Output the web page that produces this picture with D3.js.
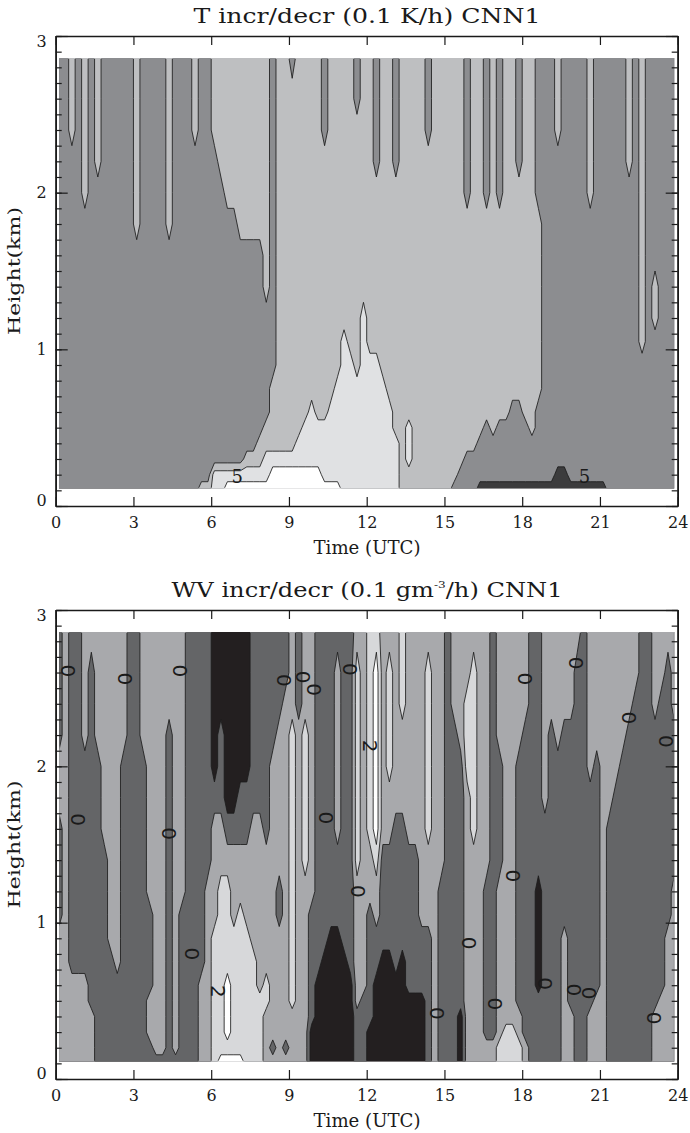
<!DOCTYPE html>
<html>
<head>
<meta charset="utf-8">
<script src="https://d3js.org/d3.v7.min.js"></script>
<style>
  body { margin: 0; background: #fff; }
  text { font-family: "DejaVu Serif", serif; fill: #1a1a1a; }
</style>
</head>
<body>
<svg id="chart" width="690" height="1133"></svg>
<script>
// grid rows (km), bottom to top
var heights = [0.11, 0.2, 0.3, 0.4, 0.5, 0.6, 0.75, 0.9, 1.05, 1.2, 1.4, 1.6, 1.8, 2.0, 2.2, 2.4, 2.6, 2.86];
// grid columns: four per hour, on the quarter-hour centres
var firstTime = 0.125, timeStep = 0.25, nCols = 96;

var timeTicks = [0, 3, 6, 9, 12, 15, 18, 21, 24];
var heightTicks = [0, 1, 2, 3];

// contour class codes: 1 strongest decrease .. 9 strongest increase
var levels = [2, 4, 6, 8];

// T incr/decr: one string per row, top row (2.86 km) first, a group of four per hour
var tempRows = [
  "3353 5353 3333 5333 3533 3533 5555 5555 5355 3555 5355 5535 5355 3555 5355 5553 5535 3553 5533 3533 3353 3333 5353 3333",
  "3353 5353 3333 5333 3533 3533 5555 5555 5355 5555 5355 5535 5355 3555 5355 5553 5535 3553 5533 3533 3353 3333 5353 3333",
  "3353 5353 3333 5333 3533 3533 5555 5555 5355 5555 5355 5555 5355 3555 5355 5553 5535 3553 5533 3533 3353 3333 5353 3333",
  "3333 5353 3333 5333 3533 3333 3555 5555 5355 5555 5555 5555 5355 3555 5555 5553 5535 3553 5533 3333 3353 3333 5353 3333",
  "3333 5333 3333 5333 3533 3333 3355 5555 5355 5555 5555 5555 5555 5555 5555 5553 5535 3555 5533 3333 3353 3333 3353 3333",
  "3333 3333 3333 5333 3533 3333 3333 5555 5355 5555 5555 5555 5555 5555 5555 5555 5555 5555 5553 3333 3333 3333 3353 3333",
  "3333 3333 3333 3333 3333 3333 3333 3333 5355 5555 5555 5555 5555 5555 5555 5555 5555 5555 5553 3333 3333 3333 3353 3333",
  "3333 3333 3333 3333 3333 3333 3333 3333 5355 5555 5555 5555 5555 5555 5555 5555 5555 5555 5553 3333 3333 3333 3353 5333",
  "3333 3333 3333 3333 3333 3333 3333 3333 3355 5555 5555 5557 5555 5555 5555 5555 5555 5555 5553 3333 3333 3333 3353 5333",
  "3333 3333 3333 3333 3333 3333 3333 3333 3355 5555 5555 7557 5555 5555 5555 5555 5555 5555 5553 3333 3333 3333 3353 3333",
  "3333 3333 3333 3333 3333 3333 3333 3333 3355 5555 5555 7757 7755 5555 5555 5555 5555 5555 5553 3333 3333 3333 3333 3333",
  "3333 3333 3333 3333 3333 3333 3333 3333 3555 5555 5557 7777 7775 5555 5555 5555 5555 5555 5553 3333 3333 3333 3333 3333",
  "3333 3333 3333 3333 3333 3333 3333 3333 3555 5557 5577 7777 7777 5555 5555 5555 5555 5533 5533 3333 3333 3333 3333 3333",
  "3333 3333 3333 3333 3333 3333 3333 3333 5555 5577 7777 7777 7777 5575 5555 5555 5535 3333 3533 3333 3333 3333 3333 3333",
  "3333 3333 3333 3333 3333 3333 3333 3335 5555 5777 7777 7777 7777 7575 5555 5555 5333 3333 3333 3333 3333 3333 3333 3333",
  "3333 3333 3333 3333 3333 3333 3333 3555 7777 7777 7777 7777 7777 7575 5555 5553 3333 3333 3333 3333 3333 3333 3333 3333",
  "3333 3333 3333 3333 3333 3333 7777 7777 7999 9999 9777 7777 7777 7555 5555 5533 3333 3333 3333 3113 3333 3333 3333 3333",
  "3333 3333 3333 3333 3333 3355 7799 9999 9999 9999 9999 7777 7777 7555 5555 5333 3111 1111 1111 1111 1111 1333 3333 3333"
];

// WV incr/decr: one string per column, top (2.86 km) to bottom, four columns per hour
var wvColumns = [
  "333355333355555555", "555555555555555555", "333333333333555555", "333333333333555555", // 0 h
  "555533333333555555", "533333333333335555", "555533333333333333", "555555533333333333", // 1 h
  "555555555553333333", "555555555555333333", "555533333333333333", "333333333333333333", // 2 h
  "333333333333333333", "555533333333333333", "555555555333355533", "555555555555555553", // 3 h
  "555555555555555553", "555333333333333333", "555555555555555553", "555555555333333333", // 4 h
  "333333333333333333", "333333333333333333", "333333333333555555", "333333335555555555", // 5 h
  "111113555577777777", "111333557777777779", "111111357777999979", "111111355577777779", // 6 h
  "111113355777777779", "111113355577777777", "333333555557777777", "333333555555577777", // 7 h
  "333333355555775555", "333355555555555535", "333555553355555555", "335555555555555535", // 8 h
  "555777777777775555", "333555555555555555", "555777775555555555", "555555555333333111", // 9 h
  "333333333333111111", "333333333331111111", "333333333311111111", "355555533311111111", // 10 h
  "333333333331111111", "333333333333111111", "577777775555553333", "555555555555533333", // 11 h
  "777777755333333111", "799999975533111111", "555555533331111111", "577775533331111111", // 12 h
  "555555333333111111", "777555333331111111", "555555533333311111", "555555533333311111", // 13 h
  "555555555533311111", "577777755533333333", "555555555555555555", "555555553333333333", // 14 h
  "333333333333333333", "555333333333333333", "555533333333331111", "557775555555555555", // 15 h
  "577777755555555555", "555555555555555555", "555555553333333355", "333333333333333355", // 16 h
  "555533335555555577", "555555555555555777", "555555555555555777", "555533333333335577", // 17 h
  "555333333333333355", "333333333333333333", "333333331111133333", "555555333333333333", // 18 h
  "555333333333333333", "555533333333333333", "555333333355555555", "555333333333335555", // 19 h
  "533333333333333333", "333333333333333333", "555553333333335555", "555533333333355555", // 20 h
  "555555555555555555", "555555333333333333", "555553333333333333", "555533333333333333", // 21 h
  "555333333333333333", "553333333333333333", "333333333333333333", "333333333333333333", // 22 h
  "555333333333335555", "553333333333355555", "533333333355555555", "555333335555555555"  // 23 h
];

var tempColors = ["#3c3c3d", "#8c8d90", "#bebfc1", "#e0e1e3", "#ffffff"];
var wvColors = ["#231f20", "#646567", "#a8a9ac", "#d7d8da", "#ffffff"];

var tempLabels = [
  {t: 7.0, h: 0.19, text: "5"},
  {t: 20.4, h: 0.19, text: "5"}
];
var wvLabels = [
  {t: 0.49, h: 2.61, text: "0"}, {t: 2.68, h: 2.56, text: "0"}, {t: 4.8, h: 2.61, text: "0"},
  {t: 8.79, h: 2.55, text: "0"}, {t: 9.54, h: 2.57, text: "0"}, {t: 9.95, h: 2.49, text: "0"},
  {t: 11.34, h: 2.62, text: "0"}, {t: 0.87, h: 1.66, text: "0"}, {t: 4.39, h: 1.57, text: "0"},
  {t: 10.44, h: 1.67, text: "0"}, {t: 18.12, h: 2.56, text: "0"}, {t: 20.08, h: 2.66, text: "0"},
  {t: 22.14, h: 2.31, text: "0"}, {t: 23.56, h: 2.16, text: "0"}, {t: 12.11, h: 2.13, text: "2"},
  {t: 11.68, h: 1.2, text: "0"}, {t: 5.25, h: 0.8, text: "0"}, {t: 6.28, h: 0.56, text: "2"},
  {t: 17.64, h: 1.3, text: "0"}, {t: 15.93, h: 0.87, text: "0"}, {t: 14.71, h: 0.42, text: "0"},
  {t: 16.96, h: 0.48, text: "0"}, {t: 18.89, h: 0.61, text: "0"}, {t: 19.99, h: 0.57, text: "0"},
  {t: 20.57, h: 0.55, text: "0"}, {t: 23.07, h: 0.39, text: "0"}
];

// grids for d3.contours, row 0 = lowest height
function gridFromRows(rows) {
  var r = rows.map(function(s) { return s.replace(/ /g, ""); }).reverse();
  var v = [];
  r.forEach(function(s) { for (var i = 0; i < nCols; i++) v.push(+s[i] || 3); });
  return v;
}
function gridFromColumns(cols) {
  var ny = heights.length, v = [];
  for (var j = 0; j < ny; j++)
    for (var i = 0; i < nCols; i++) v.push(+cols[i][ny - 1 - j] || 3);
  return v;
}

var svg = d3.select("#chart");
svg.append("rect").attr("width", 690).attr("height", 1133).attr("fill", "#fff");
var defs = svg.append("defs");

function panel(cfg) {
  var x = d3.scaleLinear().domain([0, 24]).range([55.7, 677.7]);
  var y = d3.scaleLinear().domain([0, 3]).range([cfg.bottom, cfg.top]);
  var ny = heights.length;
  var colTime = d3.scaleLinear().domain([0, nCols - 1]).range([firstTime, firstTime + (nCols - 1) * timeStep]);
  var rowHeight = d3.scaleLinear().domain(d3.range(ny)).range(heights);

  var x0 = x(colTime(0)), x1 = x(colTime(nCols - 1));
  var y0 = y(heights[ny - 1]), y1 = y(heights[0]);
  defs.append("clipPath").attr("id", cfg.id + "-fill").append("rect")
    .attr("x", x0).attr("y", y0).attr("width", x1 - x0).attr("height", y1 - y0);
  defs.append("clipPath").attr("id", cfg.id + "-line").append("rect")
    .attr("x", x0 + 1).attr("y", y0 + 1).attr("width", x1 - x0 - 2).attr("height", y1 - y0 - 2);

  var toPixels = d3.geoTransform({
    point: function(px, py) {
      var ci = Math.max(0, Math.min(nCols - 1, px - 0.5));
      var ri = Math.max(0, Math.min(ny - 1, py - 0.5));
      this.stream.point(x(colTime(ci)), y(rowHeight(ri)));
    }
  });
  var path = d3.geoPath(toPixels);
  var contours = d3.contours().size([nCols, ny]).thresholds(levels)(cfg.values);

  var fills = svg.append("g").attr("clip-path", "url(#" + cfg.id + "-fill)");
  fills.append("rect").attr("x", x0).attr("y", y0).attr("width", x1 - x0).attr("height", y1 - y0)
    .attr("fill", cfg.colors[0]);
  fills.selectAll("path").data(contours).join("path")
    .attr("d", path).attr("fill", function(d, i) { return cfg.colors[i + 1]; })
    .attr("fill-rule", "evenodd");

  svg.append("g").attr("clip-path", "url(#" + cfg.id + "-line)")
    .selectAll("path").data(contours).join("path")
    .attr("d", path).attr("fill", "none").attr("stroke", "#1c1c1c")
    .attr("stroke-width", 0.85).attr("stroke-linejoin", "miter");

  // contour labels
  svg.append("g").selectAll("text").data(cfg.labels).join("text")
    .attr("transform", function(d) {
      return "translate(" + x(d.t) + "," + y(d.h) + ")" + (cfg.rotateLabels ? " rotate(90)" : "");
    })
    .attr("text-anchor", "middle").attr("dominant-baseline", "central")
    .style("font-family", cfg.rotateLabels ? "'DejaVu Sans', sans-serif" : "'DejaVu Serif', serif")
    .style("font-size", cfg.rotateLabels ? "20px" : "18px")
    .text(function(d) { return d.text; });

  // axes, ticks inward
  function style(g) {
    g.attr("font-size", 16).attr("font-family", "'DejaVu Serif', serif");
    g.select(".domain").attr("stroke", "#1a1a1a").attr("stroke-width", 1.6);
    g.selectAll(".tick line").attr("stroke", "#1a1a1a").attr("stroke-width", 1.2);
    g.selectAll(".tick text").attr("fill", "#1a1a1a");
  }
  var minor = d3.range(0, 31).map(function(k) { return k / 10; });

  svg.append("g").attr("transform", "translate(0," + cfg.bottom + ")")
    .call(d3.axisBottom(x).tickValues(timeTicks).tickSize(-9).tickSizeOuter(0).tickPadding(11).tickFormat(d3.format("d")))
    .call(style);
  svg.append("g").attr("transform", "translate(0," + cfg.top + ")")
    .call(d3.axisTop(x).tickValues(timeTicks).tickSize(-9).tickSizeOuter(0).tickFormat(""))
    .call(style);
  svg.append("g").attr("transform", "translate(" + x(0) + ",0)")
    .call(d3.axisLeft(y).tickValues(minor).tickSize(-6).tickSizeOuter(0).tickFormat(""))
    .call(style);
  var left = svg.append("g").attr("transform", "translate(" + x(0) + ",0)")
    .call(d3.axisLeft(y).tickValues(heightTicks).tickSize(-12).tickSizeOuter(0).tickPadding(9).tickFormat(d3.format("d")))
    .call(style);
  left.selectAll(".tick text").attr("y", function(d) { return d === 3 ? 5 : d === 0 ? -6 : 0; });
  svg.append("g").attr("transform", "translate(" + x(24) + ",0)")
    .call(d3.axisRight(y).tickValues(minor).tickSize(-6).tickSizeOuter(0).tickFormat(""))
    .call(style);
  svg.append("g").attr("transform", "translate(" + x(24) + ",0)")
    .call(d3.axisRight(y).tickValues(heightTicks).tickSize(-12).tickSizeOuter(0).tickFormat(""))
    .call(style);

  // titles
  var title = svg.append("text").attr("x", 367).attr("y", cfg.top - 13)
    .attr("text-anchor", "middle").style("font-size", "20px")
    .attr("textLength", cfg.titleWidth).attr("lengthAdjust", "spacingAndGlyphs");
  cfg.title.forEach(function(part) {
    var ts = title.append("tspan").text(part.text);
    if (part.sup) ts.style("font-size", "10px").attr("dy", -9);
    else if (part.after) ts.attr("dy", 9);
  });
  svg.append("text").attr("x", 367).attr("y", cfg.bottom + 48)
    .attr("text-anchor", "middle").style("font-size", "18px")
    .attr("textLength", 107).attr("lengthAdjust", "spacingAndGlyphs")
    .text("Time (UTC)");
  svg.append("text")
    .attr("transform", "translate(20," + ((cfg.top + cfg.bottom) / 2) + ") rotate(-90)")
    .attr("text-anchor", "middle").style("font-size", "17px")
    .attr("textLength", 128).attr("lengthAdjust", "spacingAndGlyphs")
    .text("Height(km)");
}

panel({
  id: "temp", top: 36, bottom: 506,
  values: gridFromRows(tempRows), colors: tempColors, labels: tempLabels, rotateLabels: false,
  title: [{text: "T incr/decr (0.1 K/h) CNN1"}], titleWidth: 347
});
panel({
  id: "wv", top: 610, bottom: 1079,
  values: gridFromColumns(wvColumns), colors: wvColors, labels: wvLabels, rotateLabels: true,
  title: [{text: "WV incr/decr (0.1 gm"}, {text: "-3", sup: true}, {text: "/h) CNN1", after: true}], titleWidth: 391
});
</script>
</body>
</html>
